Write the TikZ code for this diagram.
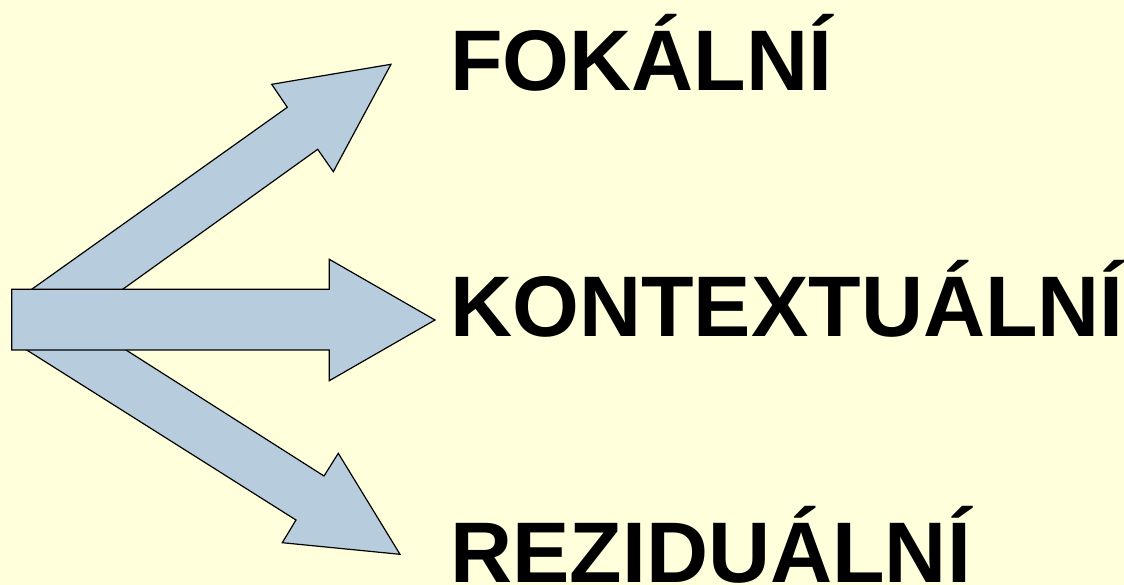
\documentclass[tikz,border=0pt]{standalone}
\usepackage{fontspec}
\setmainfont{Liberation Sans}
\definecolor{bgyellow}{HTML}{FFFFDC}
\definecolor{arrowblue}{HTML}{B7CDDD}
\tikzset{
  blockarrow/.style={draw=black, fill=arrowblue, line width=1.2pt, line join=miter},
  term/.style={anchor=base west, inner sep=0pt, font=\fontsize{86}{100}\selectfont\bfseries}
}

\begin{document}
\begin{tikzpicture}[x=1pt,y=-1pt]
\fill[bgyellow] (0,0) rectangle (1124,585);
\useasboundingbox (0,0) rectangle (1124,585);
\draw[blockarrow] (16.7,300) -- (31.7,289.3) -- (287.3,107.3) -- (271.7,84.3) -- (391,64.3)
  -- (333.3,171.7) -- (317.7,149.3) -- (122.7,289.3) -- (107.8,300) -- cycle;
\draw[blockarrow] (17.2,344) -- (116.6,344) -- (324,476) -- (338.3,453.3) -- (400,554.3)
  -- (282.3,542.7) -- (296,520) -- cycle;
\draw[blockarrow] (11.7,289.3) -- (329.3,289.3) -- (329.3,259.3) -- (435,320)
  -- (329.3,380.7) -- (329.3,350) -- (11.7,350) -- cycle;
\node[term] (fok) at (450,90.7) {FOKÁLNÍ};
\node[term] (kon) at (450,336) {KONTEXTUÁLNÍ};
\node[term] (rez) at (450,582.5) {REZIDUÁLNÍ};
\end{tikzpicture}
\end{document}
